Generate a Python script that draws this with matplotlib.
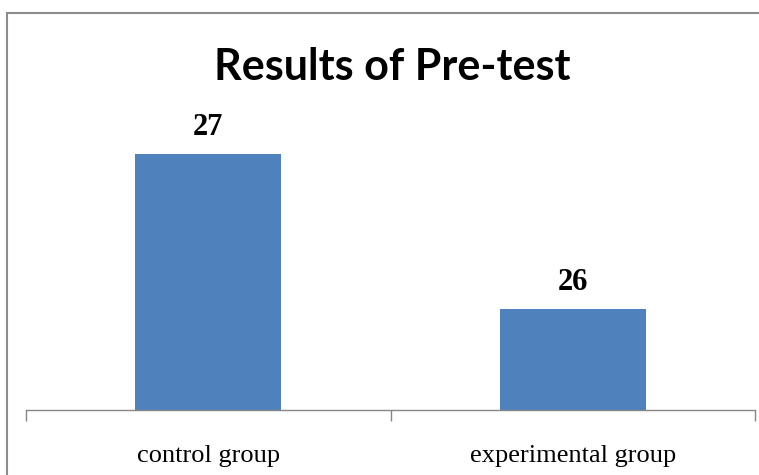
import matplotlib.pyplot as plt
from matplotlib.patches import Rectangle

# data
groups = ["control group", "experimental group"]
scores = [27, 26]

BAR_COLOR = "#4F81BD"
AXIS_COLOR = "#868686"

W, H = 759, 475
fig = plt.figure(figsize=(W / 100, H / 100), dpi=100)

# outer chart border (runs off the right and bottom edges)
fig.patches.append(Rectangle((6.5 / W, -0.1), 1.2, 1 - 13.5 / H + 0.1,
                             transform=fig.transFigure, fill=False,
                             edgecolor="#8c8c8c", linewidth=1.5))

ax = fig.add_axes([26 / W, (H - 410) / H, (755 - 26) / W, (410 - 100) / H])
x = range(len(groups))
ax.bar(x, scores, width=0.4, color=BAR_COLOR, zorder=2)

ax.set_xlim(-0.5, len(groups) - 0.5)
ax.set_ylim(25.35, 27.35)

for xi, v in zip(x, scores):
    ax.annotate(str(v), (xi, v), xytext=(0, 27), textcoords="offset pixels",
                ha="center", va="center", fontsize=22, fontweight="bold",
                family="Liberation Serif")

for s in ["top", "right", "left"]:
    ax.spines[s].set_visible(False)
ax.spines["bottom"].set_color(AXIS_COLOR)
ax.spines["bottom"].set_linewidth(1)
ax.set_yticks([])

# boundary ticks between categories
ax.set_xticks([-0.5, 0.5, 1.5])
ax.set_xticklabels([])
ax.tick_params(axis="x", direction="out", length=8, color=AXIS_COLOR, width=1)
ax.set_xticks(list(x), minor=True)
ax.set_xticklabels(groups, minor=True, family="Liberation Serif", fontsize=19)
ax.tick_params(axis="x", which="minor", length=0, pad=25)

fig.text(392 / W, 1 - 67 / H, "Results of Pre-test", ha="center", va="center",
         fontsize=31, fontweight="bold", family="Lato")

fig.savefig("out.png", dpi=100)
